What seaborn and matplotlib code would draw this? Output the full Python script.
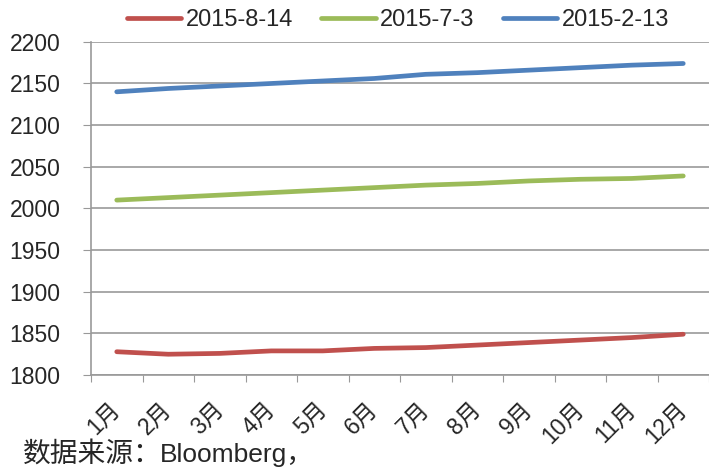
import numpy as np
import pandas as pd
import matplotlib
matplotlib.use("Agg")
import matplotlib.pyplot as plt
import seaborn as sns

months = [f"{i}月" for i in range(1, 13)]
series_names = ["2015-8-14", "2015-7-3", "2015-2-13"]
aug14 = [1828, 1825, 1826, 1829, 1829, 1832, 1833, 1836, 1839, 1842, 1845, 1849]
jul3 = [2010, 2013, 2016, 2019, 2022, 2025, 2028, 2030, 2033, 2035, 2036, 2039]
feb13 = [2140, 2144, 2147, 2150, 2153, 2156, 2161, 2163, 2166, 2169, 2172, 2174]
colors = ["#C0504D", "#9BBB59", "#4F81BD"]

sns.set_style("white")
plt.rcParams['font.family'] = ['Liberation Sans', 'Noto Sans CJK SC', 'DejaVu Sans']

df = pd.DataFrame({"month": months * 3,
                   "pos": list(range(12)) * 3,
                   "value": aug14 + jul3 + feb13,
                   "series": [s for s in series_names for _ in months]})

fig = plt.figure(figsize=(7.09, 4.7), dpi=100)
ax = fig.add_axes([91 / 709, 0.202, 618 / 709, 0.709])
sns.lineplot(data=df, x="pos", y="value", hue="series", hue_order=series_names,
             palette=colors, linewidth=3.4, ax=ax, legend=True)
for ln in ax.get_lines():
    ln.set_solid_capstyle("round")

ax.set_xlim(-0.5, 11.5)
ax.set_ylim(1800, 2200)
ax.set_yticks(np.arange(1800, 2201, 50))
ax.grid(axis="y", color="#999999", linewidth=1.2)
ax.set_xticks(np.arange(-0.5, 12, 1))
ax.set_xticklabels([])
ax.set_xticks(np.arange(12), minor=True)
ax.set_xticklabels(months, minor=True, rotation=45, fontsize=16.5,
                   family=['Liberation Sans', 'Noto Sans CJK SC'],
                   ha="right", va="center", rotation_mode="anchor")
ax.tick_params(axis="x", which="major", length=5, color="#999999", direction="out", bottom=True)
ax.tick_params(axis="x", which="minor", length=0, pad=22)
ax.tick_params(axis="y", length=6, color="#999999", labelsize=16.5, left=True, pad=16)
ax.set_xlabel("")
ax.set_ylabel("")
for side in ["top", "right"]:
    ax.spines[side].set_visible(False)
for side in ["left", "bottom"]:
    ax.spines[side].set_color("#999999")
    ax.spines[side].set_linewidth(1.2)

# legend centred over the figure at ~398 px
handles, labels = ax.get_legend_handles_labels()
ax.legend(handles, labels, loc="center", bbox_to_anchor=((398 - 91) / 618, 1.0 + 22 / 333), ncol=3,
          frameon=False, fontsize=17, handlelength=2.3, columnspacing=1.2,
          handletextpad=0.2, borderaxespad=0.0)

fig.text(23 / 709, 8 / 470, "数据来源：", fontsize=20, va="baseline",
         family=['Noto Sans CJK SC', 'DejaVu Sans'])
fig.text(160 / 709, 8 / 470, "Bloomberg，", fontsize=19, va="baseline",
         family=['Liberation Sans', 'Noto Sans CJK SC'])

fig.savefig("out.png", dpi=100)
